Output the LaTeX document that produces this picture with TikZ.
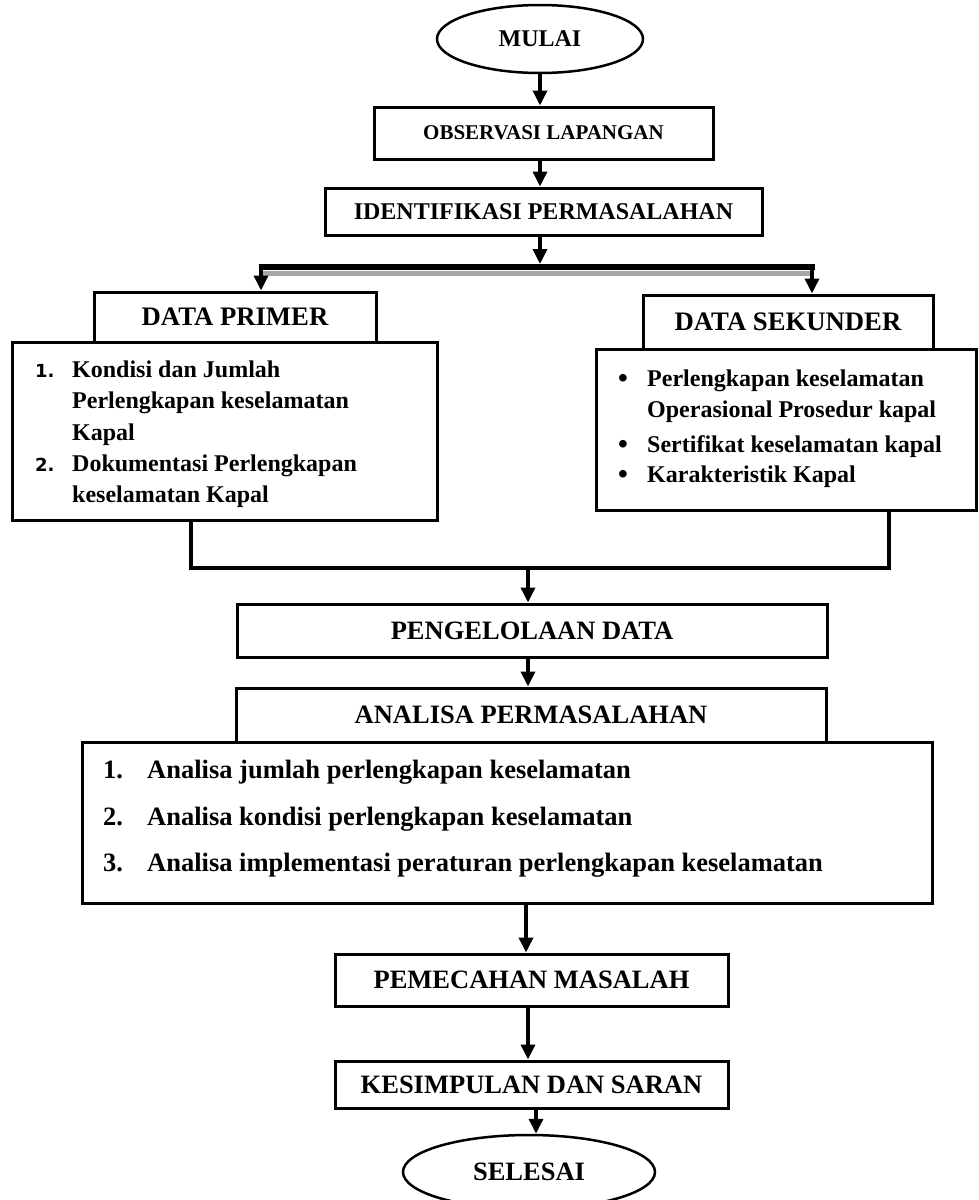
\documentclass[tikz,border=0pt]{standalone}
\usepackage{fontspec}
\setmainfont{Liberation Serif}
\newfontfamily\numfont{DejaVu Sans}
\usetikzlibrary{arrows.meta,shapes.geometric}
\newcommand\fsz[1]{\fontsize{#1}{#1}\selectfont}
\begin{document}
\begin{tikzpicture}[x=1pt,y=-1pt,
  box/.style={draw, line width=3pt, rectangle, inner sep=0pt, font=\bfseries\fsz{26.5}},
  oval/.style={draw, line width=2.5pt, ellipse, inner sep=0pt, font=\bfseries\fsz{24}},
  arr/.style={line width=3.5pt, -{Triangle[length=15pt,width=14pt]}},
  conn/.style={line width=4pt},
  txt/.style={anchor=base west, inner sep=0pt, font=\bfseries\fsz{24}},
  bigtxt/.style={anchor=base west, inner sep=0pt, font=\bfseries\fsz{26.5}},
  numtxt/.style={anchor=base west, inner sep=0pt, font=\numfont\bfseries\fsz{18}}]
\useasboundingbox (0,0) rectangle (978,1200);

% main nodes
\node[oval, minimum width=206pt, minimum height=68pt] (mulai) at (540,39) {MULAI};
\node[box, minimum width=339pt, minimum height=52pt, font=\bfseries\fsz{21}] (obs) at (543.5,133) {OBSERVASI LAPANGAN};
\node[box, minimum width=437pt, minimum height=47pt, font=\bfseries\fsz{24}] (iden) at (543.5,211.5) {IDENTIFIKASI PERMASALAHAN};

\node[box, minimum width=282pt, minimum height=50pt, font=\bfseries\fsz{26.7}] (dp) at (235,317) {DATA PRIMER};
\node[box, minimum width=425pt, minimum height=178pt] (dplist) at (224.5,431) {};
\node[box, minimum width=290pt, minimum height=54pt, font=\bfseries\fsz{26.7}] (ds) at (788,322) {DATA SEKUNDER};
\node[box, minimum width=380pt, minimum height=161pt] (dslist) at (786,429.5) {};

\node[box, minimum width=590pt, minimum height=53pt] (peng) at (532,630.5) {PENGELOLAAN DATA};
\node[box, minimum width=590pt, minimum height=54pt] (anal) at (531,715) {ANALISA PERMASALAHAN};
\node[box, minimum width=850pt, minimum height=161pt] (anallist) at (507,822.5) {};
\node[box, minimum width=393pt, minimum height=52pt] (pem) at (531.5,980) {PEMECAHAN MASALAH};
\node[box, minimum width=393pt, minimum height=47pt] (kes) at (531.5,1084.5) {KESIMPULAN DAN SARAN};
\node[oval, minimum width=252pt, minimum height=74pt, font=\bfseries\fsz{26.5}] (sel) at (529,1172) {SELESAI};

% primer list
\node[numtxt] (p1n) at (35,377) {1.};
\node[txt] (p1a) at (72,377) {Kondisi dan Jumlah};
\node[txt] (p1b) at (72,408) {Perlengkapan keselamatan};
\node[txt] (p1c) at (72,440) {Kapal};
\node[numtxt] (p2n) at (35,471) {2.};
\node[txt] (p2a) at (72,471) {Dokumentasi Perlengkapan};
\node[txt] (p2b) at (72,502) {keselamatan Kapal};

% sekunder list
\node[txt, font=\bfseries\fsz{28}] (s1n) at (618,387) {•};
\node[txt] (s1a) at (647,386) {Perlengkapan keselamatan};
\node[txt] (s1b) at (647,417) {Operasional Prosedur kapal};
\node[txt, font=\bfseries\fsz{28}] (s2n) at (618,453) {•};
\node[txt] (s2a) at (647,452) {Sertifikat keselamatan kapal};
\node[txt, font=\bfseries\fsz{28}] (s3n) at (618,483) {•};
\node[txt] (s3a) at (647,482) {Karakteristik Kapal};

% analysis list
\node[bigtxt] (a1n) at (103,778) {1.};
\node[bigtxt] (a1) at (147,778) {Analisa jumlah perlengkapan keselamatan};
\node[bigtxt] (a2n) at (103,825) {2.};
\node[bigtxt] (a2) at (147,825) {Analisa kondisi perlengkapan keselamatan};
\node[bigtxt] (a3n) at (103,871) {3.};
\node[bigtxt] (a3) at (147,871) {Analisa implementasi peraturan perlengkapan keselamatan};

% connectors
\coordinate (split) at (540,264);
\coordinate (barL) at (261,265);
\coordinate (barR) at (812,265);
\coordinate (mL) at (191,568);
\coordinate (mR) at (889,568);
\coordinate (mC) at (528,568);
\coordinate (x526) at (526,0);
\coordinate (x536) at (536,0);

\draw[arr] (mulai.south) -- (mulai.south |- obs.north);
\draw[arr] (obs.south -| mulai.south) -- (iden.north -| mulai.south);
\draw[arr] (iden.south -| split) -- (split);

\draw[line width=5pt, black!35] (263,273.5) -- (811,273.5);
\draw[line width=6pt] (258.5,267) -- (815,267);
\draw[arr] (barL) -- (barL |- dp.north);
\draw[arr] (barR) -- (barR |- ds.north);

\draw[conn] (dplist.south -| mL) -- (mL) -- (mR) -- (dslist.south -| mR);
\draw[arr] (mC) -- (mC |- peng.north);
\draw[arr] (peng.south -| mC) -- (anal.north -| mC);
\draw[arr] (anallist.south -| x526) -- (pem.north -| x526);
\draw[arr] (pem.south -| mC) -- (kes.north -| mC);
\draw[arr] (kes.south -| x536) -- (sel.north -| x536);
\end{tikzpicture}
\end{document}
